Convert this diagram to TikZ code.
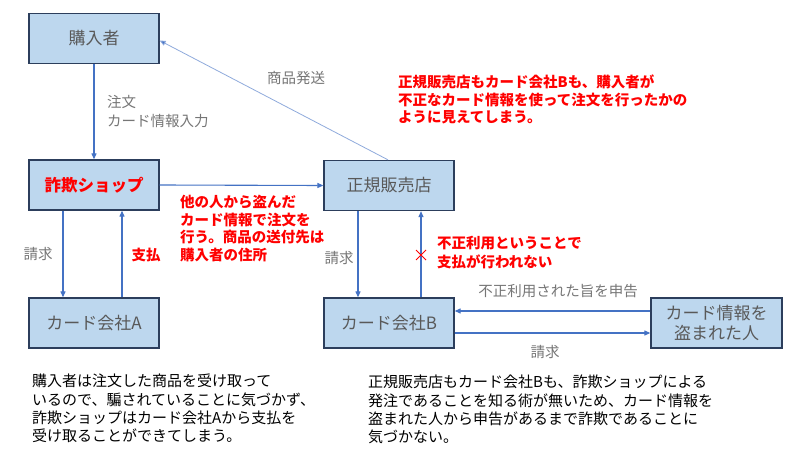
\documentclass[tikz,border=0pt]{standalone}
\usepackage{fontspec}
\setmainfont{Noto Sans CJK JP}
\usetikzlibrary{arrows.meta}
\definecolor{boxfill}{RGB}{189,215,238}
\definecolor{boxline}{RGB}{44,62,92}
\definecolor{arrowblue}{RGB}{68,114,196}
\definecolor{lightarrow}{RGB}{143,170,220}
\definecolor{boxtext}{RGB}{89,89,89}
\definecolor{labeltext}{RGB}{118,118,118}
\definecolor{alertred}{RGB}{255,0,0}
\tikzset{
  box/.style={draw=boxline, fill=boxfill, line width=1.3pt, minimum width=130pt,
    minimum height=50pt, inner sep=0pt, text=boxtext, align=center,
    font=\fontsize{17}{20}\selectfont},
  conn/.style={draw=arrowblue, line width=1.1pt, -{Triangle[length=6pt,width=5pt]}},
  thinconn/.style={draw=lightarrow, line width=0.8pt, -{Triangle[length=6pt,width=5pt,fill=arrowblue]}},
  lbl/.style={inner sep=0pt, text=labeltext, align=left, font=\fontsize{14.5}{19}\selectfont},
  redlbl/.style={inner sep=0pt, text=alertred, align=left, font=\fontsize{14.5}{17.5}\selectfont\bfseries},
  para/.style={inner sep=0pt, text=black, align=left, font=\fontsize{15}{18.3}\selectfont},
}
\begin{document}
\begin{tikzpicture}[x=1pt,y=-1pt]
\useasboundingbox (0,0) rectangle (800,468);
\fill[white] (0,0) rectangle (800,468);

\node[box] (buyer) at (94,38.5) {購入者};
\node[box, text=alertred, font=\fontsize{16.5}{20}\selectfont\bfseries] (shop) at (94,185) {詐欺ショップ};
\node[box] (store) at (389,185.5) {正規販売店};
\node[box] (cardA) at (94,323) {カード会社A};
\node[box] (cardB) at (389,323) {カード会社B};
\node[box, minimum width=131pt] (victim) at (716.5,323) {カード情報を\\盗まれた人};

% connectors
\draw[conn] (buyer.south) -- (shop.north);
\draw[thinconn] ([xshift=-1pt]store.north) -- ([yshift=-2pt]buyer.east);
\draw[conn] (shop.east) -- (store.west);
\draw[conn] ([xshift=-31pt]shop.south) -- ([xshift=-31pt]cardA.north);
\draw[conn] ([xshift=28pt]cardA.north) -- ([xshift=28pt]shop.south);
\draw[conn] ([xshift=-31pt]store.south) -- ([xshift=-31pt]cardB.north);
\draw[conn] ([xshift=32pt]cardB.north) -- ([xshift=32pt]store.south);
\draw[conn] ([yshift=12pt]victim.west) -- ([yshift=12pt]cardB.east);
\draw[conn] ([yshift=-10pt]cardB.east) -- ([yshift=-10pt]victim.west);

% red cross
\coordinate (x) at (421,255);
\draw[alertred, line width=0.9pt] ([shift={(-5pt,-5pt)}]x) -- ([shift={(5pt,5pt)}]x)
  ([shift={(-5pt,5pt)}]x) -- ([shift={(5pt,-5pt)}]x);

% labels
\node[lbl, anchor=north west] (lorder) at (107,95) {注文\\カード情報入力};
\node[lbl] (lship) at (296,78) {商品発送};
\node[lbl] (lbillA) at (38,254) {請求};
\node[redlbl] (lpayA) at (146,255) {支払};
\node[lbl] (lbillB) at (339,258) {請求};
\node[lbl] (lreport) at (558,291) {不正利用された旨を申告};
\node[lbl] (lbillV) at (545,352) {請求};

\node[redlbl, anchor=north west] (rtop) at (398,75) {正規販売店もカード会社Bも、購入者が\\不正なカード情報を使って注文を行ったかの\\ように見えてしまう。};
\node[redlbl, anchor=north west] (rmid) at (180,195) {他の人から盗んだ\\カード情報で注文を\\行う。商品の送付先は\\購入者の住所};
\node[redlbl, anchor=north west, font=\fontsize{14.5}{18.5}\selectfont\bfseries] (rright) at (437,236) {不正利用ということで\\支払が行われない};

\node[para, anchor=north west] (pleft) at (32,374) {購入者は注文した商品を受け取って\\いるので、騙されていることに気づかず、\\詐欺ショップはカード会社Aから支払を\\受け取ることができてしまう。};
\node[para, anchor=north west] (pright) at (368,375) {正規販売店もカード会社Bも、詐欺ショップによる\\発注であることを知る術が無いため、カード情報を\\盗まれた人から申告があるまで詐欺であることに\\気づかない。};
\end{tikzpicture}
\end{document}
